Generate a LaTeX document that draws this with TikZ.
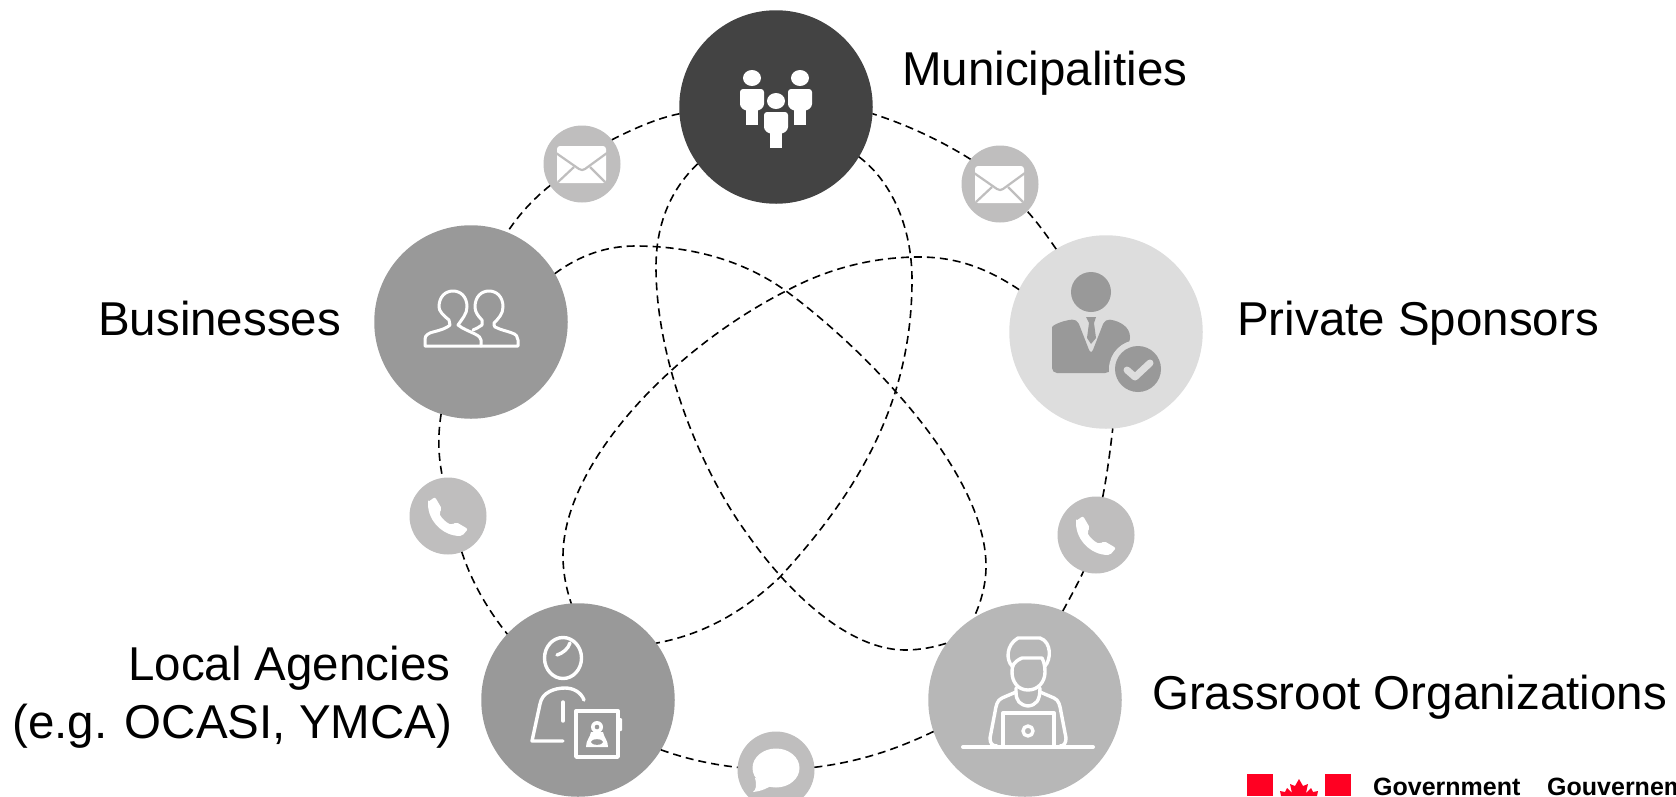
\documentclass[tikz,border=0pt]{standalone}
\usepackage{fontspec}
\setmainfont{Liberation Sans}
\definecolor{cMun}{HTML}{434343}
\definecolor{cMid}{HTML}{999999}
\definecolor{cLight}{HTML}{DDDDDD}
\definecolor{cGrass}{HTML}{B7B7B7}
\definecolor{cSmall}{HTML}{BFBEBE}
\definecolor{cRed}{HTML}{FF0022}
\tikzset{
  big/.style={circle,minimum size=193.5pt,inner sep=0pt,outer sep=0pt,fill=#1},
  small/.style={circle,minimum size=77pt,inner sep=0pt,outer sep=0pt,fill=cSmall},
  link/.style={draw=black,line width=1.6pt,dash pattern=on 8pt off 5pt},
  lab/.style={anchor=base west,font=\fontsize{47.5pt}{57pt}\selectfont,inner sep=0pt},
  gov/.style={anchor=base west,font=\fontsize{25pt}{30pt}\selectfont\bfseries,inner sep=0pt},
  ico/.style={draw=white,line width=3.4pt,line cap=round,line join=round},
  person/.pic={
    \fill[white] (0,0) ellipse (9 and 8);
    \fill[white,rounded corners=3pt] (-12,11) -- (12,11) -- (12,29) -- (6,33) -- (-6,33) -- (-12,29) -- cycle;
    \fill[white] (-6,28) rectangle (6,47);
  },
  envelope/.pic={
    \fill[white,rounded corners=3pt] (-25,-18) rectangle (24,19);
    \draw[cSmall,line width=2.2pt,line join=round] (-26,-11) -- (-3,5) -- (0,6) -- (3,5) -- (25,-11);
    \draw[cSmall,line width=2.2pt] (-24,18) -- (-8,3) (23,18) -- (8,3);
  },
  phone/.pic={
    \fill[white,rounded corners=2pt] (-20,-14) -- (-13,-19) -- (-6,-7) -- (-9,-3) .. controls (-6,3) and (-1,7) .. (4,9) -- (8,6) -- (20,13) -- (14,20) .. controls (-5,20) and (-20,5) .. cycle;
  }
}
\begin{document}
\begin{tikzpicture}[x=1pt,y=-1pt]
\useasboundingbox (0,0) rectangle (1676,796);
\clip (0,0) rectangle (1676,796);
% nodes
\node[big=cMun] (mun) at (776,107) {};
\node[big=cMid] (biz) at (471,322) {};
\node[big=cLight] (pri) at (1106,332) {};
\node[big=cMid] (loc) at (578,700) {};
\node[big=cGrass] (gra) at (1025,700) {};
\node[small] (envl) at (582,164) {};
\node[small] (envr) at (1000,184) {};
\node[small] (phl) at (448,516) {};
\node[small] (phr) at (1096,535) {};
\node[small] (cht) at (776,770) {};
% outer ring
\draw[link] (mun.184) .. controls (658,118) and (635,128) .. (envl.39);
\draw[link] (envl.214) .. controls (532,200) and (518,216) .. (biz.68);
\draw[link] (biz.-108) .. controls (437,440) and (439,460) .. (phl.98);
\draw[link] (phl.-69) .. controls (472,583) and (488,610) .. (loc.137);
\draw[link] (loc.-31) .. controls (684,758) and (708,764) .. (cht.176);
\draw[link] (cht.4) .. controls (858,762) and (895,750) .. (gra.199);
\draw[link] (gra.67) .. controls (1070,598) and (1077,585) .. (phr.-109);
\draw[link] (phr.80) .. controls (1107,475) and (1110,452) .. (pri.-86);
\draw[link] (pri.121) .. controls (1045,233) and (1037,222) .. (envr.-45);
\draw[link] (envr.140) .. controls (940,140) and (905,124) .. (mun.-4);
% inner loops
\draw[link] (mun.216) .. controls (670,190) and (656,225) .. (656,267)
  .. controls (656,360) and (700,470) .. (748,535)
  .. controls (790,595) and (850,650) .. (905,650)
  .. controls (920,650) and (935,647) .. (gra.144);
\draw[link] (mun.-31) .. controls (890,180) and (912,225) .. (912,280)
  .. controls (912,400) and (860,490) .. (780,577)
  .. controls (740,615) and (700,635) .. (loc.36);
\draw[link] (biz.30) .. controls (580,255) and (607,246) .. (635,246)
  .. controls (700,246) and (750,265) .. (786,291)
  .. controls (860,345) and (986,470) .. (986,566)
  .. controls (986,585) and (981,602) .. (gra.122);
\draw[link] (pri.154) .. controls (985,267) and (955,257) .. (919,257)
  .. controls (870,257) and (825,270) .. (786,291)
  .. controls (670,350) and (563,465) .. (563,556)
  .. controls (563,572) and (566,588) .. (loc.94);
% labels
\node[lab] (tmun) at (902,85) {Municipalities};
\node[lab] (tbiz) at (98,335) {Businesses};
\node[lab] (tpri) at (1237,335) {Private Sponsors};
\node[lab] (tl1) at (128,680) {Local Agencies};
\node[lab] (tl2) at (12,738) {(e.g. OCASI, YMCA)};
\node[lab] (tgra) at (1152,709) {Grassroot Organizations};
% municipal icon
\pic at (752,78) {person};
\pic at (800,78) {person};
\pic at (776,101) {person};
% envelopes, phones
\pic at (envl) {envelope};
\pic at (envr) {envelope};
\pic at (phl) {phone};
\pic at (phr) {phone};
% chat
\fill[white] (776,768) ellipse (23.5 and 19.5);
\fill[white] (755,778) .. controls (757,785) and (756,790) .. (753,792) .. controls (762,791) and (768,788) .. (774,784) -- cycle;
% businesses icon
\begin{scope}[shift={(biz)}]
  \draw[ico,line width=3pt] (10,24) -- (-46,24) -- (-46,17) .. controls (-46,13) and (-42,11) .. (-38,10) .. controls (-30,8) and (-24,6) .. (-21,3) .. controls (-22,1) and (-22,0) .. (-22,-2) .. controls (-28,-7) and (-32,-11) .. (-32,-15) .. controls (-32,-25) and (-26,-31) .. (-18,-31) .. controls (-10,-31) and (-4,-25) .. (-4,-15) .. controls (-4,-8) and (-9,-3) .. (-13,3) .. controls (-8,7) and (-2,9) .. (4,12) .. controls (8,14) and (10,16) .. (10,18) -- (10,24);
  \draw[ico,line width=3pt] (2,8) .. controls (5,7) and (8,5) .. (11,3) .. controls (11,1) and (11,0) .. (11,-2) .. controls (7,-6) and (4,-10) .. (4,-15) .. controls (4,-25) and (10,-31) .. (18,-31) .. controls (26,-31) and (32,-25) .. (32,-15) .. controls (32,-8) and (27,-3) .. (23,1) .. controls (23,3) and (23,4) .. (24,5) .. controls (30,8) and (36,9) .. (41,11) .. controls (45,12) and (47,15) .. (47,18) -- (47,24) -- (10,24);
\end{scope}
% sponsor icon
\begin{scope}[shift={(1000,230)}]
  \fill[cMid] (91,62) circle (20);
  \fill[cMid,rounded corners=5pt] (52,120) -- (52,102) .. controls (52,96) and (60,91) .. (77,89) -- (91,125) -- (105,89) .. controls (120,91) and (130,97) .. (130,112) -- (110,143) -- (52,143) -- cycle;
  \fill[cMid] (86,87) -- (96,87) -- (94,93) -- (96,108) -- (91,114) -- (87,108) -- (89,93) -- cycle;
  \fill[cLight] (138,139) circle (29);
  \fill[cMid] (138,139) circle (23);
  \draw[cLight,line width=7pt,line cap=round,line join=round] (127,140) -- (135,147) -- (150,133);
\end{scope}
% agency icon
\begin{scope}[shift={(470,600)}]
  \draw[ico] (93,58) ellipse (18.5 and 20.5);
  \draw[ico] (87,55) .. controls (93,53) and (98,49) .. (100,43);
  \draw[ico] (93,141) -- (62,141) -- (70,104) .. controls (72,92) and (85,88) .. (95,88) .. controls (103,88) and (111,92) .. (114,100);
  \draw[ico] (93,102) -- (93,121);
  \draw[draw=white,line width=3.4pt,line join=round] (106,111) rectangle (148,157);
  \fill[white,rounded corners=1pt] (148,118) rectangle (152,131);
  \fill[white] (127,127) circle (6);
  \fill[cMid] (127,127) circle (2.3);
  \fill[white] (116,147) .. controls (116,140) and (120,138) .. (121,132) -- (133,132) .. controls (134,138) and (138,140) .. (138,147) -- cycle;
  \fill[cMid] (127,142) ellipse (6 and 2.8);
\end{scope}
% grassroot icon
\begin{scope}[shift={(720,600)}]
  \draw[ico,line width=4pt] (243,147) -- (373,147);
  \draw[ico] (302,58) -- (322,58) .. controls (324,62) and (325,66) .. (325,72) .. controls (325,82) and (318,90) .. (308,90) .. controls (298,90) and (292,82) .. (292,72) .. controls (292,66) and (293,62) .. (302,58);
  \draw[ico] (292,66) .. controls (286,60) and (286,45) .. (298,38) -- (320,38) .. controls (332,42) and (331,60) .. (325,66);
  \draw[ico] (296,88) -- (296,92) .. controls (296,101) and (300,105) .. (308,106) .. controls (316,105) and (320,101) .. (320,88);
  \draw[ico] (296,92) -- (282,98) .. controls (277,100) and (276,106) .. (275,112) -- (270,138) .. controls (270,143) and (272,146) .. (277,146);
  \draw[ico] (320,92) -- (334,98) .. controls (339,100) and (340,106) .. (341,112) -- (346,138) .. controls (346,143) and (344,146) .. (340,146);
  \draw[ico] (283,146) -- (283,113) -- (334,113) -- (334,146);
  \draw[ico] (308,131) circle (5);
\end{scope}
% government signature
\fill[cRed] (1247,774) rectangle (1273,796);
\fill[cRed] (1325,774) rectangle (1351,796);
\fill[cRed] (1299,779) -- (1303,786) -- (1308,784) -- (1306,793) -- (1311,788) -- (1313,792) -- (1318,791) -- (1317,796) -- (1281,796) -- (1280,791) -- (1285,792) -- (1287,788) -- (1292,793) -- (1290,784) -- (1295,786) -- cycle;
\node[gov] (tgov) at (1373,795) {Government};
\node[gov] (tgouv) at (1547,795) {Gouvernement};
\end{tikzpicture}
\end{document}
